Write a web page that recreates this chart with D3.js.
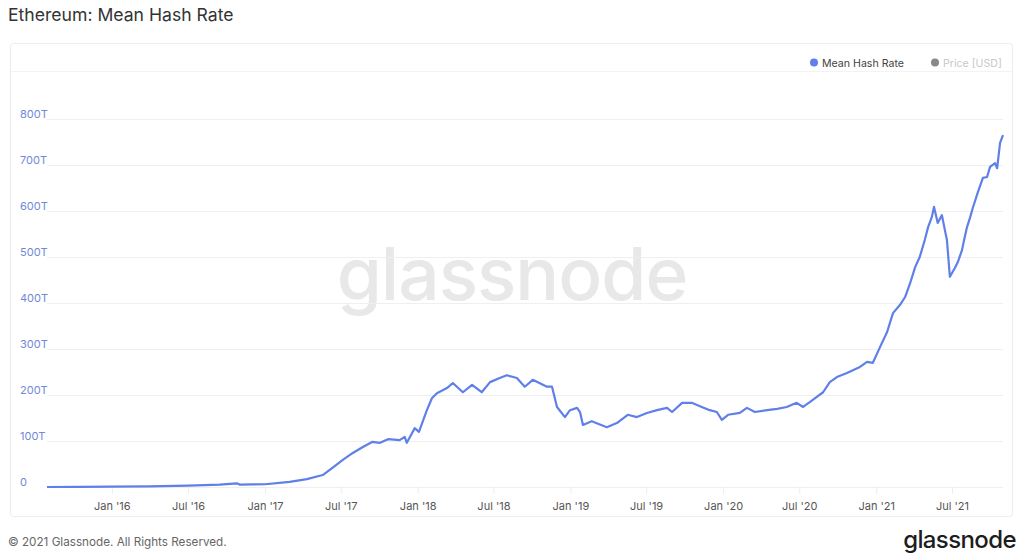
<!DOCTYPE html>
<html><head><meta charset="utf-8">
<script src="https://cdn.jsdelivr.net/npm/d3@7"></script>
<style>
html,body{margin:0;padding:0;background:#fff;}
svg{display:block;font-family:Inter,"Noto Sans",sans-serif;}
</style></head>
<body><svg id="c" width="1024" height="553"></svg>
<script>
const dates = ["2015-07-30","2015-10-17","2016-01-01","2016-04-01","2016-07-01","2016-09-15","2016-10-26","2016-11-02","2016-12-01","2017-01-01","2017-03-01","2017-04-11","2017-05-19","2017-06-12","2017-07-06","2017-07-30","2017-08-23","2017-09-14","2017-10-03","2017-10-22","2017-11-19","2017-12-01","2017-12-06","2017-12-25","2018-01-04","2018-01-23","2018-02-04","2018-02-16","2018-03-12","2018-03-26","2018-04-19","2018-05-11","2018-06-03","2018-06-23","2018-07-16","2018-08-02","2018-08-26","2018-09-14","2018-10-03","2018-11-06","2018-11-18","2018-11-30","2018-12-19","2018-12-31","2019-01-17","2019-01-24","2019-01-31","2019-02-21","2019-03-29","2019-04-22","2019-05-18","2019-06-09","2019-07-03","2019-07-27","2019-08-20","2019-09-01","2019-09-25","2019-10-18","2019-11-11","2019-11-30","2019-12-17","2019-12-29","2020-01-13","2020-02-10","2020-02-27","2020-03-17","2020-04-15","2020-05-09","2020-06-01","2020-06-25","2020-07-10","2020-07-27","2020-08-12","2020-08-27","2020-09-12","2020-09-29","2020-10-23","2020-11-23","2020-12-10","2020-12-24","2021-01-10","2021-01-27","2021-02-10","2021-02-27","2021-03-11","2021-03-23","2021-04-04","2021-04-15","2021-04-27","2021-05-05","2021-05-14","2021-05-19","2021-05-28","2021-06-07","2021-06-14","2021-06-19","2021-06-26","2021-07-08","2021-07-15","2021-07-25","2021-07-30","2021-08-06","2021-08-13","2021-08-20","2021-09-01","2021-09-13","2021-09-23","2021-09-30","2021-10-12","2021-10-17","2021-10-24","2021-10-31"];
const hashRate = [0,0.4,1,1.5,3,5,8,5,5.5,6,11,17,26,42,59,74,87,98,96,104,102,109,96,128,120,167,193,204,215,226,206,222,206,228,237,243,237,218,233,218,218,174,152,167,172,163,135,143,130,139,157,152,161,167,172,163,183,183,174,167,163,146,157,161,172,163,167,170,174,183,174,185,196,206,228,239,248,261,272,270,304,337,378,396,413,443,478,500,537,565,587,609,574,591,559,537,457,476,489,515,537,565,585,607,641,672,674,696,704,693,748,765];
const yTicks = [0,100,200,300,400,500,600,700,800];
const xTickDates = ["2016-01-01","2016-07-01","2017-01-01","2017-07-01","2018-01-01","2018-07-01","2019-01-01","2019-07-01","2020-01-01","2020-07-01","2021-01-01","2021-07-01"];
const xTickLabels = ["Jan '16","Jul '16","Jan '17","Jul '17","Jan '18","Jul '18","Jan '19","Jul '19","Jan '20","Jul '20","Jan '21","Jul '21"];
const legendItems = ["Mean Hash Rate","Price [USD]"];
const titleText = "Ethereum: Mean Hash Rate";

const parse = d3.utcParse("%Y-%m-%d");
const data = dates.map((d,i)=>({date:parse(d), v:hashRate[i]}));
const svg = d3.select("#c");

// card
svg.append("rect").attr("x",10.5).attr("y",43.5).attr("width",1002).attr("height",473)
  .attr("rx",3).attr("fill","#fff").attr("stroke","#ececec");
svg.append("line").attr("x1",11).attr("x2",1012).attr("y1",71.5).attr("y2",71.5).attr("stroke","#f3f3f3");

// title
svg.append("text").attr("x",8).attr("y",21).attr("font-size",17.6).attr("fill","#333").text(titleText);

const x = d3.scaleUtc().domain(d3.extent(data,d=>d.date)).range([47,1003]);
const y = d3.scaleLinear().domain([0,800]).range([487,119]);

// watermark
svg.append("text").attr("x",512).attr("y",300).attr("text-anchor","middle")
  .attr("font-size",73).attr("font-weight",500).attr("fill","#e8e8e8").attr("letter-spacing",-1).text("glassnode");

// gridlines
const yAxis = d3.axisLeft(y).tickValues(yTicks).tickSize(-(1003-47)).tickFormat(d=>d===0?"0":d+"T");
const gy = svg.append("g").attr("transform","translate(47,0)").call(yAxis);
gy.select(".domain").remove();
gy.selectAll(".tick line").attr("stroke","#efefef");
gy.selectAll(".tick text").attr("x",-27).attr("text-anchor","start").attr("dy","-0.15em")
  .attr("font-size",11).attr("fill","#7088d8").attr("font-family","Inter,'Noto Sans',sans-serif");

const xAxis = d3.axisBottom(x).tickValues(xTickDates.map(parse)).tickSize(7).tickPadding(8)
  .tickFormat((d,i)=>xTickLabels[i]);
const gx = svg.append("g").attr("transform","translate(0,487)").call(xAxis);
gx.select(".domain").remove();
gx.selectAll(".tick line").attr("stroke","#eeeeee");
gx.selectAll(".tick text").attr("font-size",11).attr("fill","#555").attr("font-family","Inter,'Noto Sans',sans-serif");

// line
const line = d3.line().x(d=>x(d.date)).y(d=>y(d.v)).curve(d3.curveLinear);
svg.append("path").datum(data).attr("d",line).attr("fill","none").attr("stroke","#5f7fe9")
  .attr("stroke-width",2.2).attr("stroke-linejoin","round");

// legend
const lg = svg.append("g");
lg.append("circle").attr("cx",814).attr("cy",62.5).attr("r",4).attr("fill","#5f7fe9");
lg.append("text").attr("x",822).attr("y",66.5).attr("font-size",10.6).attr("fill","#444").text(legendItems[0]);
lg.append("circle").attr("cx",935).attr("cy",62.5).attr("r",4).attr("fill","#888");
lg.append("text").attr("x",943).attr("y",66.5).attr("font-size",10.6).attr("fill","#c8c8c8").text(legendItems[1]);

// footer
svg.append("text").attr("x",8).attr("y",546).attr("font-size",11.7).attr("fill","#666").text("© 2021 Glassnode. All Rights Reserved.");
svg.append("text").attr("x",1016).attr("y",548).attr("text-anchor","end").attr("font-size",24).attr("font-weight",500).attr("fill","#1d1d1d").attr("letter-spacing",-0.6).text("glassnode");
</script></body></html>
